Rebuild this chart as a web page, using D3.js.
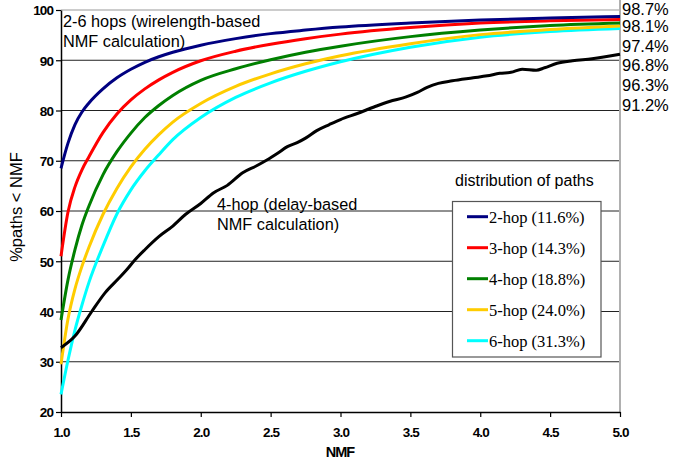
<!DOCTYPE html>
<html><head><meta charset="utf-8">
<script src="https://cdn.jsdelivr.net/npm/d3@7/dist/d3.min.js"></script>
<style>body{margin:0;background:#fff}svg{display:block}</style>
</head><body>
<svg id="c" width="673" height="464"></svg>
<script>
// ---- data ----
const nmf = [1.0,1.05,1.1,1.15,1.2,1.3,1.4,1.5,1.6,1.7,1.8,2.0,2.25,2.5,2.75,3.0,3.5,4.0,4.5,5.0];
const hop2 = [68.5,73.5,77.2,79.7,81.5,84.3,86.5,88.2,89.6,90.7,91.6,93.0,94.3,95.3,96.0,96.6,97.4,98.0,98.4,98.7];
const hop3 = [51.0,59.8,64.8,68.2,70.8,75.6,79.3,82.1,84.3,86.1,87.6,89.9,91.8,93.2,94.3,95.2,96.5,97.4,97.85,98.1];
const hop4 = [38.3,46.3,52.3,57.2,61.0,67.2,71.8,75.5,78.6,81.0,83.0,86.0,88.3,90.1,91.6,92.8,94.7,96.0,96.9,97.4];
const hop5 = [29.5,38.5,44.5,49.0,52.8,59.3,64.5,68.8,72.3,75.2,77.7,81.4,84.8,87.3,89.3,90.9,93.3,95.1,96.1,96.8];
const hop6 = [23.5,30.3,36.3,41.3,45.8,53.0,59.4,64.2,68.0,71.2,74.2,78.6,82.6,85.5,87.8,89.7,92.6,94.6,95.7,96.3];
const delayNmf = [1.0,1.1,1.22,1.315,1.41,1.47,1.53,1.6,1.7,1.8,1.89,2.0,2.09,2.19,2.3,2.4,2.47,2.55,2.62,2.69,2.75,2.83,2.92,3.0,3.12,3.24,3.35,3.47,3.55,3.62,3.7,3.8,3.95,4.05,4.14,4.22,4.3,4.4,4.46,4.55,4.66,4.8,5.0];
const delay4 = [32.8,35.1,40.0,43.7,46.5,48.3,50.3,52.3,54.9,57.0,59.3,61.5,63.6,65.1,67.6,69.0,70.1,71.5,72.8,73.6,74.5,76.0,77.2,78.2,79.4,80.7,81.8,82.7,83.6,84.6,85.4,85.9,86.5,86.9,87.4,87.6,88.2,88.0,88.5,89.4,89.9,90.3,91.2];
const seriesNames = ["2-hop (11.6%)","3-hop (14.3%)","4-hop (18.8%)","5-hop (24.0%)","6-hop (31.3%)"];
const seriesColors = ["#000080","#ff0000","#008000","#ffcc00","#00ffff"];
const endLabels = ["98.7%","98.1%","97.4%","96.8%","96.3%","91.2%"];
const xTicks = [1.0,1.5,2.0,2.5,3.0,3.5,4.0,4.5,5.0];
const yTicks = [20,30,40,50,60,70,80,90,100];

// ---- layout ----
const svg = d3.select("#c");
const L = 61, R = 620, T = 10, B = 412;
const x = d3.scaleLinear().domain([1,5]).range([L,R]);
const y = d3.scaleLinear().domain([20,100]).range([B,T]);

// gridlines
svg.append("g").selectAll("line").data(yTicks.filter(v=>v>20 && v<100)).join("line")
  .attr("x1",L).attr("x2",R).attr("y1",d=>y(d)).attr("y2",d=>y(d))
  .attr("stroke","#222").attr("stroke-width",1);
svg.append("line").attr("x1",L).attr("x2",R).attr("y1",y(100)).attr("y2",y(100))
  .attr("stroke","#999").attr("stroke-width",1.2);
svg.append("line").attr("x1",R).attr("x2",R).attr("y1",0).attr("y2",B)
  .attr("stroke","#b0b0b0").attr("stroke-width",2);

// axes
const xAxis = d3.axisBottom(x).tickValues(xTicks).tickFormat(d3.format(".1f")).tickSize(5).tickSizeOuter(0);
const yAxis = d3.axisLeft(y).tickValues(yTicks).tickFormat(d3.format("d")).tickSize(5).tickSizeOuter(0);
const gx = svg.append("g").attr("transform",`translate(0,${B})`).call(xAxis);
const gy = svg.append("g").attr("transform",`translate(${L},0)`).call(yAxis);
[gx,gy].forEach(g=>{
  g.select(".domain").attr("stroke","#000").attr("stroke-width",1.5);
  g.selectAll(".tick line").attr("stroke","#000").attr("stroke-width",1.2);
  g.selectAll(".tick text").attr("fill","#000").attr("font-family","Liberation Sans, Arial, sans-serif")
   .attr("font-weight","bold").attr("font-size","13.5px").attr("letter-spacing","-0.9px");
});
gx.selectAll(".tick text").attr("dy","0").attr("y",25);
gy.selectAll(".tick text").attr("x",-8).attr("dy","0.36em");

// lines
const line = d3.line().x(d=>x(d[0])).y(d=>y(d[1])).curve(d3.curveMonotoneX);
const allSeries = [hop6,hop5,hop4,hop3,hop2];
const allColors = seriesColors.slice().reverse();
allSeries.forEach((s,i)=>{
  svg.append("path").datum(nmf.map((v,j)=>[v,s[j]])).attr("d",line)
    .attr("fill","none").attr("stroke",allColors[i]).attr("stroke-width",3).attr("stroke-linejoin","round");
});
svg.append("path").datum(delayNmf.map((v,j)=>[v,delay4[j]])).attr("d",line)
  .attr("fill","none").attr("stroke","#000").attr("stroke-width",3).attr("stroke-linejoin","round");

// end labels
svg.append("g").selectAll("text").data(endLabels).join("text")
  .attr("x",622).attr("y",(d,i)=>i===0?15:12+i*19.8).text(d=>d)
  .attr("font-family","Liberation Sans, Arial, sans-serif").attr("font-size","16.5px").attr("fill","#000");

// annotations
const ann = svg.append("g").attr("font-family","Liberation Sans, Arial, sans-serif").attr("font-size","16.3px").attr("fill","#000");
ann.append("text").attr("x",63).attr("y",27).text("2-6 hops (wirelength-based");
ann.append("text").attr("x",63).attr("y",47).text("NMF calculation)");
ann.append("text").attr("x",217).attr("y",210).text("4-hop (delay-based");
ann.append("text").attr("x",217).attr("y",230).text("NMF calculation)");

// axis titles
svg.append("text").attr("x",340).attr("y",457).attr("text-anchor","middle")
  .attr("font-family","Liberation Sans, Arial, sans-serif").attr("font-weight","bold").attr("font-size","14.5px")
  .attr("letter-spacing","-1px").text("NMF");
svg.append("text").attr("transform","translate(22,207) rotate(-90)").attr("text-anchor","middle")
  .attr("font-family","Liberation Sans, Arial, sans-serif").attr("font-size","16.5px").text("%paths < NMF");

// legend
svg.append("text").attr("x",455).attr("y",186)
  .attr("font-family","Liberation Sans, Arial, sans-serif").attr("font-size","16px").text("distribution of paths");
svg.append("rect").attr("x",452.5).attr("y",201.5).attr("width",148.5).attr("height",155.5)
  .attr("fill","#fff").attr("stroke","#555").attr("stroke-width",1.2);
const lg = svg.append("g").selectAll("g").data(seriesNames).join("g")
  .attr("transform",(d,i)=>`translate(0,${216.7+i*31})`);
lg.append("line").attr("x1",467).attr("x2",488).attr("y1",0).attr("y2",0)
  .attr("stroke",(d,i)=>seriesColors[i]).attr("stroke-width",3);
lg.append("text").attr("x",489).attr("y",6).text(d=>d)
  .attr("font-family","Liberation Serif, Times New Roman, serif").attr("font-size","16.5px").attr("fill","#000");
</script>
</body></html>
